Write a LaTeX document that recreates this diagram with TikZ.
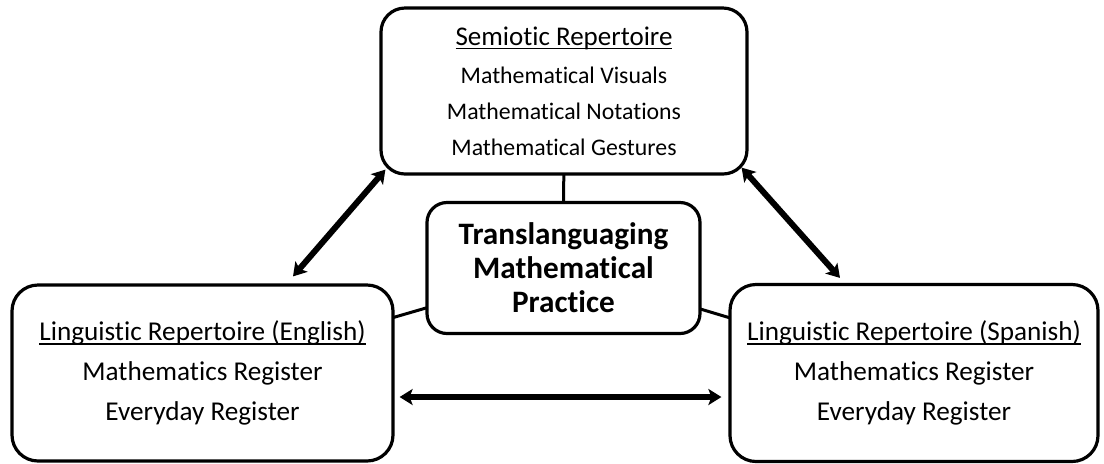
\documentclass[tikz,border=0pt]{standalone}
\usepackage{fontspec}
\setmainfont{Carlito}[Ligatures=NoCommon]
\usetikzlibrary{arrows.meta,calc,backgrounds}
\newcommand\myul[1]{\setbox0\hbox{#1}\rlap{\raisebox{-2pt}{\rule{\wd0}{0.9pt}}}\box0}
\begin{document}
\begin{tikzpicture}[x=0.5pt,y=-0.5pt,
  box/.style={draw,line width=1.6pt,fill=white,align=center,inner sep=0pt},
  link/.style={line width=1.5pt},
  dbl/.style={line width=3pt,{Stealth[length=6.5pt,width=8pt,inset=1.5pt]}-{Stealth[length=6.5pt,width=8pt,inset=1.5pt]}}
]
\useasboundingbox (0,0) rectangle (1104,463);
\node[box,rounded corners=12pt,minimum width=183pt,minimum height=83pt,
  font=\fontsize{11.9}{18}\selectfont] (top) at (564,91)
  {{\fontsize{13.5}{18}\selectfont\myul{Semiotic Repertoire}}\\[0.8pt]Mathematical Visuals\\Mathematical Notations\\Mathematical Gestures};
\node[box,rounded corners=10pt,minimum width=136.5pt,minimum height=65.5pt,
  font=\fontsize{15.6}{17}\selectfont\bfseries] (mid) at (563.5,268)
  {Translanguaging\\Mathematical\\Practice};
\node[box,rounded corners=13pt,minimum width=190.5pt,minimum height=88pt,
  font=\fontsize{13.6}{20}\selectfont] (left) at (202.5,373)
  {\myul{Linguistic Repertoire (English)}\\Mathematics Register\\Everyday Register};
\node[box,rounded corners=13pt,minimum width=184pt,minimum height=88.5pt,
  font=\fontsize{13.6}{20}\selectfont] (right) at (914,373)
  {\myul{Linguistic Repertoire (Spanish)}\\Mathematics Register\\Everyday Register};
\begin{scope}[on background layer]
  \draw[link] (mid.center) -- (top.center);
  \draw[link] (mid.center) -- (left.center);
  \draw[link] (mid.center) -- (right.center);
\end{scope}
\draw[dbl] ($(top.south west)+(6,-6)$) -- ($(left.north)+(90.5,-7)$);
\draw[dbl] ($(top.south east)+(-7,-8)$) -- ($(right.north)+(-74,-5)$);
\draw[dbl] ($(left.east)+(5,24)$) -- ($(right.west)+(-7,24)$);
\end{tikzpicture}
\end{document}
